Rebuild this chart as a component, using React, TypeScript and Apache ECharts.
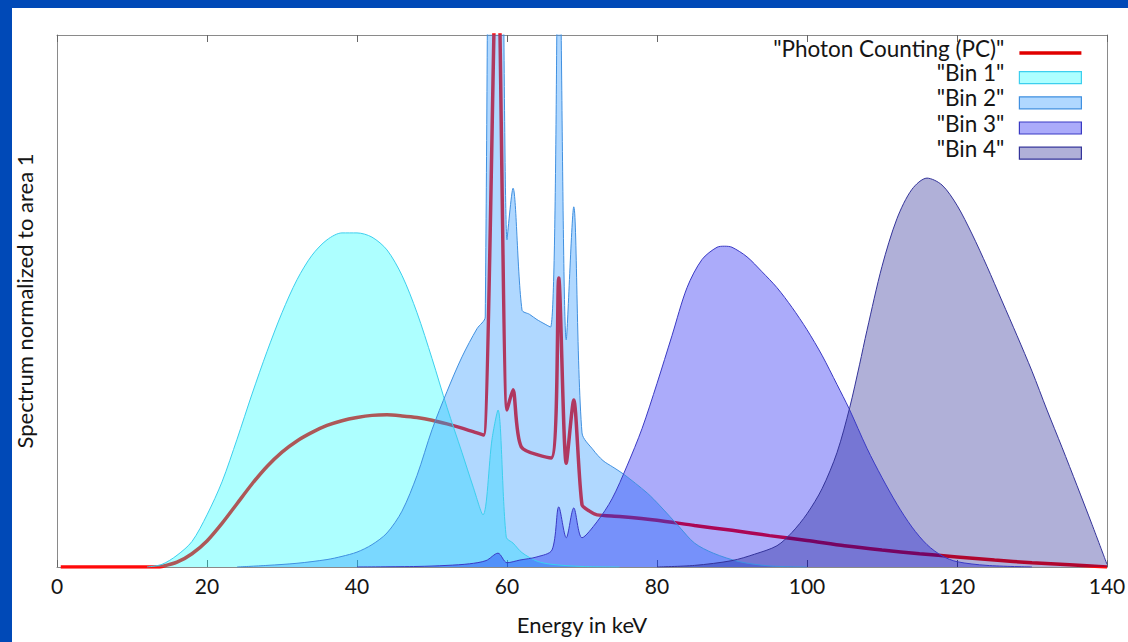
import React, { useEffect, useRef } from "react";
import * as echarts from "echarts";

// ---- data (energy in keV, value in arbitrary units; the plot clips at 100) ----
const xTicks = [0, 20, 40, 60, 80, 100, 120, 140];

const pcE = [0.5, 13.3, 14, 16, 18, 20, 22, 24, 26, 28, 30, 32, 34, 36, 38, 40, 42, 44, 46, 48, 50, 52, 54, 56, 56.9, 58.7, 60, 60.8, 61.9, 65.9, 66.9, 67.9, 68.9, 70, 71, 72, 75, 80, 85, 90, 95, 100, 105, 110, 115, 120, 125, 130, 135, 140];
const pcV = [0, 0, 0.1, 0.9, 2.5, 4.9, 8.2, 11.9, 15.6, 18.9, 21.6, 23.7, 25.3, 26.6, 27.5, 28.1, 28.5, 28.6, 28.4, 28.1, 27.6, 26.9, 26.1, 25.2, 24.8, 122, 29.5, 33.3, 22.6, 20.5, 54.3, 19.5, 31.4, 11.7, 10.5, 9.8, 9.5, 8.8, 7.8, 6.9, 5.9, 5.0, 4.0, 3.2, 2.5, 1.9, 1.3, 0.8, 0.4, 0];

const bin1E = [12, 14, 16, 18, 20, 22, 24, 26, 28, 30, 32, 34, 36, 38, 40, 42, 44, 46, 48, 50, 52, 54, 55.5, 56.8, 58, 58.8, 59.9, 60.8, 62, 64, 66, 70, 75];
const bin1V = [0, 0.5, 2.2, 4.8, 9.8, 16, 24, 32.5, 40.5, 47.8, 54, 58.6, 61.5, 62.8, 62.8, 62, 59.6, 54.8, 47.8, 39.2, 30, 21.5, 15, 9.8, 24, 29.5, 5.6, 4.5, 2.7, 1.1, 0.5, 0.1, 0];

const bin2E = [24, 28, 32, 36, 38, 40, 42, 44, 46, 48, 50, 52, 54, 56, 57.1, 58.4, 60, 60.8, 62, 63, 64, 65.8, 66.9, 67.9, 68.9, 70, 71.5, 72.8, 74.1, 75.5, 78.7, 80.4, 83, 85, 87.5, 91, 95, 100];
const bin2V = [0, 0.3, 0.7, 1.4, 2.0, 2.8, 4.2, 6.4, 10.5, 17.2, 25.8, 33, 39.5, 44.8, 47, 400, 61.5, 71.2, 48.3, 47.5, 46.5, 45.1, 125, 42.7, 67.7, 25.2, 22, 20, 18.8, 17.5, 13.9, 11.5, 7.5, 4.5, 2.6, 1, 0.2, 0];

const bin3E = [40, 48, 52, 55, 57.2, 58.8, 60, 61.7, 64, 66, 66.9, 67.9, 68.9, 70, 72, 74, 76, 78, 80, 82, 84, 86, 88, 89, 90, 92, 94, 96, 98, 100, 102, 104, 105.6, 108, 110, 112, 114, 116, 118, 120, 124, 130];
const bin3V = [0, 0.1, 0.3, 0.6, 1.2, 2.6, 0.8, 1.3, 1.9, 3.2, 11.3, 5.5, 11.1, 5.5, 8.5, 12.8, 19, 26, 34.5, 43.5, 52.5, 57.8, 60.1, 60.3, 60.1, 58.3, 55.5, 52.5, 48.8, 44.6, 39.8, 34.3, 29.8, 22.3, 16.8, 11.8, 7.5, 4.2, 2.1, 1.0, 0.3, 0];

const bin4E = [80, 85, 90, 93, 96, 98, 100, 102, 104, 105.7, 107, 108, 110, 112, 114, 116, 118, 120, 122, 124, 126, 128, 130, 132, 134, 136, 138, 140];
const bin4V = [0, 0.3, 1.2, 2.4, 4, 6.5, 10, 14.7, 21.5, 30, 38, 44.5, 56.5, 65.5, 71, 73.1, 71.8, 68, 62.6, 56.5, 50, 43.5, 36.8, 29.5, 22.5, 15.3, 8, 0.5];

const names = ['"Photon Counting (PC)"', '"Bin 1"', '"Bin 2"', '"Bin 3"', '"Bin 4"'];

const zip = (xs: number[], ys: number[]) => xs.map((x, i) => [x, ys[i]]);

const binStyles = [
  { line: "#3ccfee", fill: "rgba(0,255,255,0.32)" },
  { line: "#4090e0", fill: "rgba(30,144,255,0.35)" },
  { line: "#3a3ac4", fill: "rgba(0,0,240,0.33)" },
  { line: "#34349a", fill: "rgba(0,0,128,0.31)" },
];

// legend keys sit a little below the text centre, as in the original
const KEY_RECT = "path://M31,0M31,26M0,12L62,12L62,24L0,24Z";
const KEY_LINE = "path://M31,0M31,26M0,16.2L62,16.2L62,19.8L0,19.8Z";

const FONT = "Lato";
const TXT = "#151515";
const AX = "#8a8a8a";

export default function App() {
  const ref = useRef<HTMLDivElement>(null);

  useEffect(() => {
    if (!ref.current) return;
    const chart = echarts.init(ref.current, null, { renderer: "svg" });
    const binData = [zip(bin1E, bin1V), zip(bin2E, bin2V), zip(bin3E, bin3V), zip(bin4E, bin4V)];

    const axisLine = { show: true, onZero: false, lineStyle: { color: AX, width: 1 } };
    const tick = { show: true, inside: true, length: 7, lineStyle: { color: "#666" } };

    const option: any = {
      animation: false,
      backgroundColor: "#ffffff",
      textStyle: { fontFamily: FONT },
      grid: { left: 45, right: 21, top: 27, bottom: 75, containLabel: false, outerBoundsMode: "none" },
      xAxis: [
        {
          type: "value",
          min: 0,
          max: 140,
          interval: 20,
          position: "bottom",
          axisLine,
          axisTick: tick,
          axisLabel: { fontSize: 21, color: TXT, margin: 8, fontFamily: FONT, customValues: xTicks },
          splitLine: { show: false },
          name: "Energy in keV",
          nameLocation: "middle",
          nameGap: 46,
          nameTextStyle: { fontSize: 22, color: TXT, fontFamily: FONT },
        },
        {
          type: "value",
          min: 0,
          max: 140,
          interval: 20,
          position: "top",
          axisLine,
          axisTick: tick,
          axisLabel: { show: false },
          splitLine: { show: false },
        },
      ],
      yAxis: [
        {
          type: "value",
          min: 0,
          max: 100,
          position: "left",
          axisLine,
          axisTick: { show: false },
          axisLabel: { show: false },
          splitLine: { show: false },
          name: "Spectrum normalized to area 1",
          nameLocation: "middle",
          nameGap: 22,
          nameTextStyle: { fontSize: 22, color: TXT, fontFamily: FONT },
        },
        {
          type: "value",
          min: 0,
          max: 100,
          position: "right",
          axisLine,
          axisTick: { show: false },
          axisLabel: { show: false },
          splitLine: { show: false },
        },
      ],
      legend: {
        orient: "vertical",
        align: "right",
        right: 41,
        top: 22,
        itemWidth: 62,
        itemHeight: 26,
        itemGap: -2,
        symbolKeepAspect: true,
        textStyle: {
          fontSize: 22.5,
          lineHeight: 22,
          color: TXT,
          fontFamily: FONT,
          padding: [0, 10, 0, 0],
        },
        data: [
          {
            name: names[0],
            icon: KEY_LINE,
            itemStyle: { color: "#e00000", borderWidth: 0 },
          },
          ...binStyles.map((s, i) => ({
            name: names[i + 1],
            icon: KEY_RECT,
            itemStyle: { color: s.fill, borderColor: s.line, borderWidth: 1.2 },
          })),
        ],
      },
      series: [
        {
          name: names[0],
          type: "line",
          z: 1,
          data: zip(pcE, pcV),
          symbol: "none",
          showSymbol: false,
          smooth: 0.25,
          lineStyle: { color: "#ff0a0a", width: 3.5 },
          itemStyle: { color: "#ff0a0a" },
          clip: true,
        },
        ...binStyles.map((s, i) => ({
          name: names[i + 1],
          type: "line",
          z: 2,
          data: binData[i],
          symbol: "none",
          showSymbol: false,
          smooth: 0.3,
          lineStyle: { color: s.line, width: 1 },
          itemStyle: { color: s.line },
          areaStyle: { color: s.fill, opacity: 1 },
          clip: true,
        })),
      ],
    };
    chart.setOption(option);
    return () => chart.dispose();
  }, []);

  return (
    <div style={{ position: "fixed", left: 0, top: 0, width: 1128, height: 642, background: "#0049b7" }}>
      <div ref={ref} style={{ position: "absolute", left: 12, top: 8, width: 1116, height: 634, background: "#fff" }} />
    </div>
  );
}
